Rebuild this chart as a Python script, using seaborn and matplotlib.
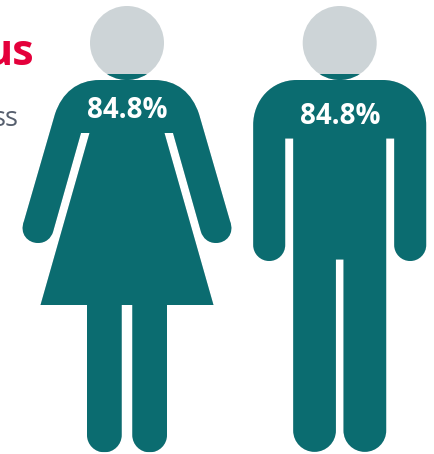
import matplotlib
matplotlib.use("Agg")
import matplotlib.pyplot as plt
from matplotlib.path import Path
from matplotlib.patches import PathPatch
from matplotlib.transforms import Affine2D
import pandas as pd
import seaborn as sns

groups = ["Women", "Men"]
shares = [84.8, 84.8]

TEAL = "#0b6c70"
GREY = "#cdd4d7"
W, H = 434, 454
K = 0.5523

sns.set_theme(style="white", rc={"font.family": ["Open Sans", "DejaVu Sans"]})
fig = plt.figure(figsize=(W / 100, H / 100), dpi=100, facecolor="white")

# Shapes are described in pixels measured from the top-left of the figure.
to_display = Affine2D().scale(1, -1).translate(0, H)


class Outline:
    def __init__(self):
        self.v, self.c = [], []

    def move(self, x, y):
        self.v.append((x, y)); self.c.append(Path.MOVETO); return self

    def line(self, x, y):
        self.v.append((x, y)); self.c.append(Path.LINETO); return self

    def curve(self, a, b, d):
        self.v += [a, b, d]; self.c += [Path.CURVE4] * 3; return self

    def close(self):
        self.v.append(self.v[-1]); self.c.append(Path.CLOSEPOLY); return self

    def circle(self, cx, cy, r):
        k = K * r
        self.move(cx + r, cy)
        self.curve((cx + r, cy + k), (cx + k, cy + r), (cx, cy + r))
        self.curve((cx - k, cy + r), (cx - r, cy + k), (cx - r, cy))
        self.curve((cx - r, cy - k), (cx - k, cy - r), (cx, cy - r))
        self.curve((cx + k, cy - r), (cx + r, cy - k), (cx + r, cy))
        return self.close()

    def u_bottom(self, x0, x1, y):
        # Semicircular end running left to right, starting at (x0, y).
        r = (x1 - x0) / 2
        k = K * r
        self.line(x0, y)
        self.curve((x0, y + k), (x0 + r - k, y + r), (x0 + r, y + r))
        self.curve((x0 + r + k, y + r), (x1, y + k), (x1, y))
        return self

    def path(self):
        return Path(self.v, self.c)


def woman(c=127):
    m = lambda dx: c + dx
    o = Outline().circle(c, 43, 37)
    o.move(m(-27), 80)
    o.curve((m(-50), 80), (m(-65), 93), (m(-72), 114))
    o.line(m(-103), 221)
    o.curve((m(-108), 234), (m(-99), 243), (m(-89), 243))
    o.curve((m(-81), 243), (m(-76), 238), (m(-74), 232))
    o.line(m(-46), 133)
    o.line(m(-37.5), 133)
    o.line(m(-86.5), 305)
    o.line(m(-40), 305)
    o.u_bottom(m(-40), m(-5.3), 435)
    o.line(m(-5.3), 305)
    o.line(m(5.3), 305)
    o.u_bottom(m(5.3), m(40), 435)
    o.line(m(40), 305)
    o.line(m(86.5), 305)
    o.line(m(37.5), 133)
    o.line(m(46), 133)
    o.line(m(74), 232)
    o.curve((m(76), 238), (m(81), 243), (m(89), 243))
    o.curve((m(99), 243), (m(108), 234), (m(103), 221))
    o.line(m(72), 114)
    o.curve((m(65), 93), (m(50), 80), (m(27), 80))
    return o.close().path()


def man(c=339.7):
    m = lambda dx: c + dx
    o = Outline().circle(c, 43, 37)
    o.move(m(-43), 80)
    o.curve((m(-68), 80), (m(-86.5), 100), (m(-86.5), 125))
    o.u_bottom(m(-86.5), m(-54.5), 245)
    o.line(m(-54.5), 138.5)
    o.line(m(-46.5), 138.5)
    o.u_bottom(m(-46.5), m(-3.8), 430.5)
    o.line(m(-3.8), 259.5)
    o.line(m(3.8), 259.5)
    o.u_bottom(m(3.8), m(46.5), 430.5)
    o.line(m(46.5), 138.5)
    o.line(m(54.5), 138.5)
    o.u_bottom(m(54.5), m(86.5), 245)
    o.line(m(86.5), 125)
    o.curve((m(86.5), 100), (m(68), 80), (m(43), 80))
    return o.close().path()


shapes = [woman(), man()]
spans = [(15, 239), (248, 432)]
top_px, bottom_px = 6, 452

for group, share, shape, (x0, x1) in zip(groups, shares, shapes, spans):
    ax = fig.add_axes([x0 / W, 1 - bottom_px / H, (x1 - x0) / W, (bottom_px - top_px) / H])
    frame = pd.DataFrame({"group": [group], "share": [share]})
    sns.barplot(data=frame, x="group", y="share", color=TEAL, width=1, saturation=1, ax=ax, zorder=3)
    ax.set_xlim(-0.5, 0.5)
    ax.set_ylim(0, 100)
    ax.axis("off")
    ax.add_patch(PathPatch(shape, transform=to_display, facecolor=GREY, edgecolor="none", zorder=1, clip_on=False))
    for bar in ax.patches:
        if bar.get_zorder() == 3:
            bar.set_clip_path(shape, to_display)
            bar.set_edgecolor("none")


def put(x, y, text, **kw):
    fig.text(x / W, 1 - y / H, text, **kw)


put(127, 118.5, f"{shares[0]}%", color="white", fontsize=20, fontweight="bold", ha="center", va="baseline")
put(340, 123.5, f"{shares[1]}%", color="white", fontsize=20, fontweight="bold", ha="center", va="baseline")
put(34.5, 65, "us", color="#e4003b", fontsize=31, fontweight="bold", ha="right", va="baseline")
put(19, 126, "ss", color="#565f6e", fontsize=19.5, ha="right", va="baseline")

fig.savefig("out.png", dpi=100, facecolor="white")
